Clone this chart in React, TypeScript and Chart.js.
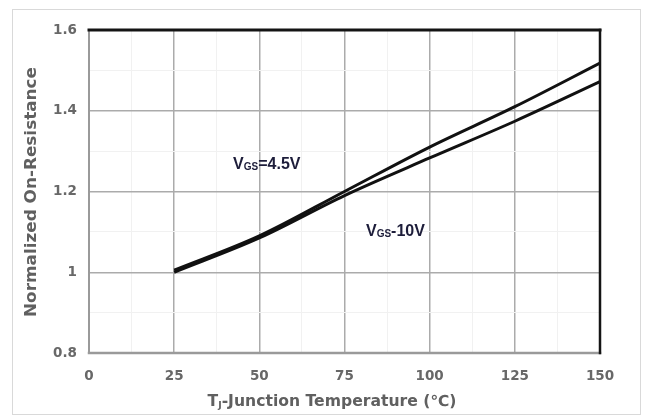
import React, { useEffect, useRef } from "react";
import { Chart, registerables } from "chart.js";

Chart.register(...registerables);

const temperatures = [25, 50, 75, 100, 125, 150];
const vgs45Values = [1.005, 1.09, 1.2, 1.31, 1.41, 1.518];
const vgs10Values = [1.0, 1.085, 1.19, 1.283, 1.374, 1.472];
const xTickLabels = ["0", "25", "50", "75", "100", "125", "150"];
const yTickLabels = ["0.8", "1", "1.2", "1.4", "1.6"];
const seriesLabels = [
  { main: "V", sub: "GS", rest: "=4.5V", x: 42.3, y: 1.266 },
  { main: "V", sub: "GS", rest: "-10V", x: 81.3, y: 1.1 },
];
const xTitle = { main: "T", sub: "J", rest: "-Junction Temperature (\u2103)" };
const yTitle = "Normalized On-Resistance";

const FONT = "'Liberation Sans', Arial, sans-serif";
const HEAVY = "'DejaVu Sans', sans-serif";

function fittedText(ctx: CanvasRenderingContext2D, text: string, cx: number, cy: number, target: number, rot: number) {
  const w = ctx.measureText(text).width;
  ctx.save();
  ctx.translate(cx, cy);
  ctx.rotate(rot);
  ctx.scale(target / w, 1);
  ctx.textAlign = "center";
  ctx.textBaseline = "middle";
  ctx.fillText(text, 0, 0);
  ctx.restore();
}

const decorPlugin = {
  id: "decor",
  beforeDraw(chart: any) {
    const ctx = chart.ctx as CanvasRenderingContext2D;
    ctx.save();
    ctx.fillStyle = "#ffffff";
    ctx.fillRect(0, 0, chart.width, chart.height);
    ctx.strokeStyle = "#d9d9d9";
    ctx.lineWidth = 1;
    ctx.strokeRect(12.5, 9.5, 628, 405);
    ctx.restore();
  },
  afterDraw(chart: any) {
    const ctx = chart.ctx as CanvasRenderingContext2D;
    const { left, right, top, bottom } = chart.chartArea;
    const xs = chart.scales.x;
    const ys = chart.scales.y;
    ctx.save();
    // frame
    ctx.lineCap = "square";
    ctx.strokeStyle = "#9a9a9a";
    ctx.lineWidth = 2;
    ctx.beginPath();
    ctx.moveTo(left, top);
    ctx.lineTo(left, bottom);
    ctx.stroke();
    ctx.lineWidth = 2.5;
    ctx.beginPath();
    ctx.moveTo(left, bottom);
    ctx.lineTo(right, bottom);
    ctx.stroke();
    ctx.strokeStyle = "#141414";
    ctx.lineWidth = 3;
    ctx.beginPath();
    ctx.moveTo(left, top);
    ctx.lineTo(right, top);
    ctx.stroke();
    ctx.lineWidth = 2.5;
    ctx.beginPath();
    ctx.moveTo(right, top);
    ctx.lineTo(right, bottom);
    ctx.stroke();

    // series labels
    ctx.fillStyle = "#1d1d3a";
    ctx.textBaseline = "middle";
    ctx.textAlign = "left";
    for (const lab of seriesLabels) {
      let px = xs.getPixelForValue(lab.x);
      const py = ys.getPixelForValue(lab.y);
      ctx.font = `bold 16px ${FONT}`;
      ctx.fillText(lab.main, px, py);
      px += ctx.measureText(lab.main).width;
      ctx.font = `bold 10px ${FONT}`;
      ctx.fillText(lab.sub, px, py + 2);
      px += ctx.measureText(lab.sub).width;
      ctx.font = `bold 16px ${FONT}`;
      ctx.fillText(lab.rest, px, py);
    }

    // y title
    ctx.fillStyle = "#606060";
    ctx.font = `bold 15px ${HEAVY}`;
    fittedText(ctx, yTitle, 32, 192, 250, -Math.PI / 2);

    // x title with subscript
    const cx = 332;
    const cy = 402;
    ctx.font = `bold 15px ${HEAVY}`;
    const wMain = ctx.measureText(xTitle.main).width;
    const wRest = ctx.measureText(xTitle.rest).width;
    ctx.font = `bold 9px ${HEAVY}`;
    const wSub = ctx.measureText(xTitle.sub).width;
    const total = wMain + wSub + wRest;
    const target = 249;
    const sc = target / total;
    ctx.save();
    ctx.translate(cx - target / 2, cy);
    ctx.scale(sc, 1);
    ctx.textAlign = "left";
    ctx.textBaseline = "middle";
    ctx.font = `bold 15px ${HEAVY}`;
    ctx.fillText(xTitle.main, 0, 0);
    ctx.font = `bold 9px ${HEAVY}`;
    ctx.fillText(xTitle.sub, wMain, 4);
    ctx.font = `bold 15px ${HEAVY}`;
    ctx.fillText(xTitle.rest, wMain + wSub, 0);
    ctx.restore();
    ctx.restore();
  },
};

export default function App() {
  const ref = useRef<HTMLCanvasElement | null>(null);
  useEffect(() => {
    if (!ref.current) return;
    const chart = new Chart(ref.current, {
      type: "line",
      data: {
        datasets: [
          {
            label: "VGS=4.5V",
            data: temperatures.map((t, i) => ({ x: t, y: vgs45Values[i] })),
            borderColor: "#111111",
            borderWidth: 3,
            pointRadius: 0,
            cubicInterpolationMode: "monotone",
            fill: false,
          },
          {
            label: "VGS=10V",
            data: temperatures.map((t, i) => ({ x: t, y: vgs10Values[i] })),
            borderColor: "#111111",
            borderWidth: 3,
            pointRadius: 0,
            cubicInterpolationMode: "monotone",
            fill: false,
          },
        ],
      },
      options: {
        animation: false,
        responsive: false,
        maintainAspectRatio: false,
        layout: { padding: { left: 0, right: 47, top: 30, bottom: 0 } },
        plugins: { legend: { display: false }, tooltip: { enabled: false } },
        scales: {
          x: {
            type: "linear",
            min: 0,
            max: 150,
            afterFit: (s: any) => {
              s.height = 65;
            },
            ticks: {
              stepSize: 12.5,
              autoSkip: false,
              maxRotation: 0,
              padding: 15,
              color: "#686868",
              font: { family: HEAVY, size: 13.5, weight: "bold" },
              callback: (v: any) => {
                const n = Number(v);
                if (Math.abs(n % 25) > 0.001) return "";
                return xTickLabels[Math.round(n / 25)];
              },
            },
            grid: {
              drawTicks: false,
              color: (c: any) => {
                const v = c.tick ? c.tick.value : 0;
                return Math.abs(v % 25) < 0.001 ? "#ababab" : "#f1f1f1";
              },
              lineWidth: (c: any) => {
                const v = c.tick ? c.tick.value : 0;
                return Math.abs(v % 25) < 0.001 ? 1.5 : 1;
              },
            },
            border: { display: false },
          },
          y: {
            type: "linear",
            min: 0.8,
            max: 1.6,
            afterFit: (s: any) => {
              s.width = 89;
            },
            ticks: {
              stepSize: 0.1,
              autoSkip: false,
              padding: 12,
              color: "#686868",
              font: { family: HEAVY, size: 13.5, weight: "bold" },
              callback: (v: any) => {
                const k = Math.round(Number(v) * 10);
                if (k % 2 !== 0) return "";
                return yTickLabels[(k - 8) / 2];
              },
            },
            grid: {
              drawTicks: false,
              color: (c: any) => {
                const k = c.tick ? Math.round(c.tick.value * 10) : 0;
                return k % 2 === 0 ? "#ababab" : "#f1f1f1";
              },
              lineWidth: (c: any) => {
                const k = c.tick ? Math.round(c.tick.value * 10) : 0;
                return k % 2 === 0 ? 1.5 : 1;
              },
            },
            border: { display: false },
          },
        },
      },
      plugins: [decorPlugin],
    });
    return () => chart.destroy();
  }, []);
  return (
    <div style={{ position: "absolute", left: 0, top: 0, width: 647, height: 418 }}>
      <canvas ref={ref} width={647} height={418} style={{ display: "block" }} />
    </div>
  );
}
